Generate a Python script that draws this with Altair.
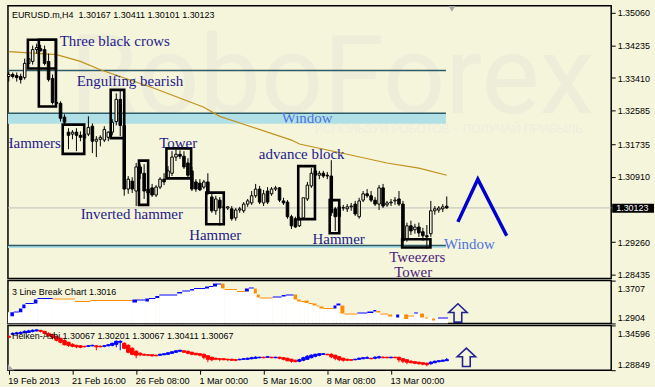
import altair as alt
import pandas as pd
import numpy as np

BG = "#F5F5DC"
FONT = "Liberation Sans"
SERIF = "Liberation Serif"

# ---------------- main candles (EURUSD H4) ----------------
open_ = [1.3345, 1.3350, 1.3347, 1.3345, 1.3342, 1.3378, 1.3383, 1.3413, 1.3415, 1.3413,
         1.3383, 1.3340, 1.3279, 1.3277, 1.3242, 1.3204, 1.3199, 1.3204, 1.3196, 1.3189,
         1.3199, 1.3219, 1.3181, 1.3186, 1.3184, 1.3191, 1.3204, 1.3231, 1.3287, 1.3221,
         1.3060, 1.3080, 1.3055, 1.3116, 1.3100, 1.3060, 1.3063, 1.3045, 1.3065, 1.3085,
         1.3088, 1.3100, 1.3141, 1.3148, 1.3143, 1.3126, 1.3106, 1.3078, 1.3075, 1.3065,
         1.3078, 1.3040, 1.3005, 1.3032, 1.3015, 1.3012, 1.3010, 1.2987, 1.3007, 1.3005,
         1.3022, 1.3025, 1.3043, 1.3060, 1.3025, 1.3055, 1.3048, 1.3060, 1.3063, 1.3030,
         1.3027, 1.2990, 1.2985, 1.2967, 1.2987, 1.3035, 1.3068, 1.3106, 1.3095, 1.3100,
         1.3095, 1.3093, 1.3010, 1.2990, 1.3012, 1.3010, 1.3015, 1.3022, 1.2990, 1.3032,
         1.3048, 1.3043, 1.3032, 1.3022, 1.3063, 1.3020, 1.3025, 1.3030, 1.3035, 1.3022,
         1.2934, 1.2967, 1.2957, 1.2964, 1.2952, 1.2942, 1.2947, 1.3005, 1.3007, 1.3010,
         1.30167]
high = [1.3357, 1.3355, 1.3355, 1.3352, 1.3390, 1.3400, 1.3423, 1.3428, 1.3425, 1.3423,
        1.3403, 1.3350, 1.3284, 1.3282, 1.3249, 1.3214, 1.3209, 1.3214, 1.3206, 1.3219,
        1.3244, 1.3226, 1.3194, 1.3196, 1.3219, 1.3206, 1.3237, 1.3302, 1.3310, 1.3231,
        1.3093, 1.3090, 1.3126, 1.3123, 1.3123, 1.3121, 1.3073, 1.3070, 1.3090, 1.3100,
        1.3118, 1.3156, 1.3161, 1.3158, 1.3156, 1.3138, 1.3116, 1.3085, 1.3085, 1.3083,
        1.3100, 1.3048, 1.3043, 1.3040, 1.3022, 1.3017, 1.3017, 1.3012, 1.3015, 1.3027,
        1.3035, 1.3055, 1.3073, 1.3068, 1.3058, 1.3065, 1.3065, 1.3068, 1.3065, 1.3038,
        1.3032, 1.2995, 1.2990, 1.2990, 1.2995, 1.3078, 1.3113, 1.3111, 1.3106, 1.3106,
        1.3103, 1.3133, 1.3015, 1.3022, 1.3020, 1.3022, 1.3025, 1.3030, 1.3038, 1.3055,
        1.3060, 1.3055, 1.3040, 1.3070, 1.3073, 1.3030, 1.3035, 1.3040, 1.3055, 1.3030,
        1.2975, 1.2980, 1.2972, 1.2975, 1.2962, 1.2969, 1.3030, 1.3017, 1.3017, 1.3022,
        1.30411]
low = [1.3332, 1.3340, 1.3332, 1.3327, 1.3337, 1.3367, 1.3375, 1.3403, 1.3408, 1.3373,
       1.3332, 1.3274, 1.3272, 1.3231, 1.3221, 1.3161, 1.3186, 1.3156, 1.3181, 1.3176,
       1.3194, 1.3151, 1.3141, 1.3168, 1.3179, 1.3181, 1.3196, 1.3221, 1.3194, 1.3043,
       1.3048, 1.3050, 1.3017, 1.3085, 1.3035, 1.3045, 1.3040, 1.3040, 1.3060, 1.3070,
       1.3085, 1.3093, 1.3131, 1.3136, 1.3111, 1.3090, 1.3055, 1.3053, 1.3055, 1.3060,
       1.3045, 1.3000, 1.2995, 1.2967, 1.3005, 1.3007, 1.2980, 1.2980, 1.3000, 1.3000,
       1.3015, 1.3020, 1.3038, 1.3022, 1.3017, 1.3022, 1.3043, 1.3055, 1.3027, 1.3020,
       1.2985, 1.2959, 1.2962, 1.2964, 1.2982, 1.3030, 1.3063, 1.3090, 1.3085, 1.3088,
       1.3085, 1.2992, 1.2954, 1.2985, 1.3005, 1.3002, 1.3005, 1.2992, 1.2985, 1.3027,
       1.3038, 1.3027, 1.3017, 1.3007, 1.3012, 1.3015, 1.3017, 1.3020, 1.3017, 1.2917,
       1.2927, 1.2944, 1.2947, 1.2939, 1.2929, 1.2909, 1.2939, 1.2995, 1.3000, 1.3002,
       1.30101]
close = [1.3350, 1.3345, 1.3342, 1.3337, 1.3378, 1.3390, 1.3413, 1.3418, 1.3410, 1.3378,
         1.3337, 1.3279, 1.3277, 1.3239, 1.3229, 1.3196, 1.3204, 1.3196, 1.3191, 1.3199,
         1.3216, 1.3181, 1.3186, 1.3191, 1.3211, 1.3204, 1.3229, 1.3287, 1.3221, 1.3060,
         1.3085, 1.3060, 1.3116, 1.3100, 1.3055, 1.3050, 1.3045, 1.3065, 1.3085, 1.3078,
         1.3106, 1.3141, 1.3148, 1.3143, 1.3116, 1.3095, 1.3060, 1.3060, 1.3058, 1.3078,
         1.3050, 1.3005, 1.3035, 1.3012, 1.3014, 1.3015, 1.2985, 1.3007, 1.3010, 1.3022,
         1.3030, 1.3043, 1.3060, 1.3027, 1.3048, 1.3027, 1.3060, 1.3063, 1.3032, 1.3025,
         1.2990, 1.2967, 1.2964, 1.2982, 1.3038, 1.3070, 1.3100, 1.3095, 1.3100, 1.3093,
         1.3093, 1.3000, 1.2990, 1.3015, 1.3013, 1.3015, 1.3017, 1.2997, 1.3030, 1.3048,
         1.3043, 1.3032, 1.3022, 1.3063, 1.3017, 1.3025, 1.3027, 1.3032, 1.3022, 1.2929,
         1.2967, 1.2954, 1.2964, 1.2949, 1.2942, 1.2939, 1.3005, 1.3010, 1.3012, 1.3015,
         1.30123]

# moving average (read at a few bars)
ma_bar = [0, 12, 18, 23, 36, 49, 53, 59, 71, 73, 85, 95, 103, 110]
ma_val = [1.3408, 1.3400, 1.3383, 1.3362, 1.3317, 1.3267, 1.3244, 1.3224, 1.3184, 1.3174,
          1.3148, 1.3126, 1.3113, 1.3095]

# pattern boxes
box_x0 = [4.8, 7.55, 25.6, 13.55, 32.7, 39.6, 49.6, 72.7, 80.6, 98.8]
box_x1 = [11.85, 11.85, 29.0, 18.95, 35.0, 45.8, 54.0, 76.9, 83.0, 105.9]
box_top = [1.3438, 1.3438, 1.3311, 1.3223, 1.3132, 1.3163, 1.3051, 1.3118, 1.3032, 1.2933]
box_bot = [1.3365, 1.3269, 1.3189, 1.3149, 1.3020, 1.3087, 1.2971, 1.2984, 1.2948, 1.2912]

# annotation labels
lab_text = ["Three black crows", "Engulfing bearish", "Window", "Hammers", "Tower",
            "advance block", "Inverted hammer", "Hammer", "Hammer", "Window", "Tweezers", "Tower"]
lab_bar = [12.8, 17.05, 68.55, -1.5, 37.8, 62.8, 18.05, 45.3, 76.3, 109.3, 95.55, 96.8]
lab_price = [1.3423, 1.3322, 1.3226, 1.3163, 1.3163, 1.3136, 1.2985, 1.2932, 1.2922, 1.2909,
             1.2876, 1.28385]
lab_kind = ["n", "n", "w", "n", "n", "n", "n", "n", "n", "w", "p", "p"]

# horizontal levels
crows_level = 1.3360
window_top, window_bot = 1.3252, 1.3225
low_top, low_bot = 1.2917, 1.2911
level_end = 109.8

# forecast zig-zag
zz_bar = [112.8, 117.8, 125.05]
zz_price = [1.2977, 1.3085, 1.2942]

main_ticks = [1.35060, 1.34235, 1.33410, 1.32585, 1.31735, 1.30910, 1.29260, 1.28435]

# ---------------- 3 line break ----------------
lb_b0 = [0.4, 1.3, 2.55, 3.4, 4.2, 6.3, 7.2, 11.05, 16.6, 20.5,
         31.05, 32.2, 34.3, 35.2, 36.8, 37.8, 42.3, 43.55, 45.55, 46.55,
         49.3, 50.3, 51.3, 52.3, 53.3, 54.2, 57.3, 59.3, 60.3, 61.55,
         62.3, 63.05, 66.3, 68.55, 69.55, 71.55, 72.4, 73.3, 74.3, 75.3,
         76.3, 77.3, 78.05, 79.05, 81.55, 82.3, 83.3, 84.3, 87.55, 90.05,
         91.55, 92.3, 93.3, 95.3, 97.3, 99.3, 100.3, 101.8, 103.3, 104.55,
         106.3, 107.8]
lb_b1 = [1.3, 2.55, 3.4, 4.2, 6.3, 7.2, 11.05, 16.6, 20.5, 31.05,
         32.2, 34.3, 35.2, 36.8, 37.8, 42.3, 43.55, 45.55, 46.55, 49.3,
         50.3, 51.3, 52.3, 53.3, 54.2, 57.3, 59.3, 60.3, 61.55, 62.3,
         63.05, 66.3, 68.55, 69.55, 71.55, 72.4, 73.3, 74.3, 75.3, 76.3,
         77.3, 78.05, 79.05, 81.55, 82.3, 83.3, 84.3, 87.55, 90.05, 91.55,
         92.3, 93.3, 95.3, 96.3, 98.05, 100.3, 101.8, 102.8, 104.3, 105.3,
         107.05, 110.3]
lb_top = [1.3115, 1.3128, 1.3184, 1.3259, 1.3287, 1.3352, 1.3380, 1.3371, 1.3324, 1.3343,
          1.3352, 1.3352, 1.3371, 1.3380, 1.3418, 1.3446, 1.3492, 1.3520, 1.3548, 1.3567,
          1.3595, 1.3604, 1.3651, 1.3651, 1.3651, 1.3548, 1.3511, 1.3558, 1.3576, 1.3558,
          1.3446, 1.3390, 1.3408, 1.3436, 1.3446, 1.3446, 1.3352, 1.3324, 1.3334, 1.3287,
          1.3278, 1.3240, 1.3222, 1.3193, 1.3240, 1.3278, 1.3240, 1.3091, 1.3109, 1.3128,
          1.3156, 1.3137, 1.3091, 1.3072, 1.3072, 1.3072, 1.3053, 1.3109, 1.3091, 1.3016,
          1.2997, 1.3016]
lb_bot = [1.3040, 1.3109, 1.3115, 1.3190, 1.3268, 1.3278, 1.3362, 1.3352, 1.3306, 1.3324,
          1.3296, 1.3334, 1.3315, 1.3362, 1.3380, 1.3427, 1.3464, 1.3502, 1.3520, 1.3548,
          1.3558, 1.3586, 1.3595, 1.3632, 1.3558, 1.3530, 1.3492, 1.3502, 1.3558, 1.3464,
          1.3390, 1.3371, 1.3390, 1.3408, 1.3427, 1.3352, 1.3315, 1.3306, 1.3287, 1.3268,
          1.3240, 1.3222, 1.3184, 1.3175, 1.3184, 1.3240, 1.3091, 1.3072, 1.3091, 1.3100,
          1.3128, 1.3109, 1.3072, 1.3035, 1.3016, 1.2988, 1.3035, 1.3091, 1.3016, 1.2997,
          1.2960, 1.2997]
lb_dir = (["up"] * 7 + ["down"] * 3 + ["up"] * 14 + ["down"] * 3 + ["up"] * 2 +
          ["down"] * 3 + ["up"] * 3 + ["down"] * 9 + ["up"] * 2 + ["down"] * 2 +
          ["up"] * 3 + ["down"] * 3 + ["up"] + ["down"] * 2 + ["up"] + ["down"] * 3 + ["up"])

# ---------------- Heiken Ashi ----------------
ha_open = [1.3319, 1.3345, 1.3351, 1.3357, 1.3364, 1.3370, 1.3383, 1.3389, 1.3396, 1.3383,
           1.3357, 1.3345, 1.3319, 1.3294, 1.3268, 1.3243, 1.3217, 1.3204, 1.3198, 1.3191,
           1.3191, 1.3198, 1.3198, 1.3191, 1.3191, 1.3198, 1.3204, 1.3217, 1.3243, 1.3230,
           1.3204, 1.3166, 1.3128, 1.3102, 1.3089, 1.3083, 1.3083, 1.3077, 1.3077, 1.3083,
           1.3089, 1.3102, 1.3115, 1.3128, 1.3134, 1.3128, 1.3115, 1.3102, 1.3096, 1.3089,
           1.3070, 1.3051, 1.3038, 1.3032, 1.3032, 1.3025, 1.3025, 1.3019, 1.3019, 1.3025,
           1.3025, 1.3032, 1.3038, 1.3045, 1.3051, 1.3051, 1.3051, 1.3045, 1.3051, 1.3045,
           1.3038, 1.3025, 1.3013, 1.3000, 1.3013, 1.3025, 1.3045, 1.3064, 1.3077, 1.3089,
           1.3089, 1.3089, 1.3077, 1.3057, 1.3038, 1.3025, 1.3019, 1.3019, 1.3025, 1.3032,
           1.3038, 1.3038, 1.3038, 1.3045, 1.3051, 1.3051, 1.3045, 1.3051, 1.3051, 1.3032,
           1.3019, 1.3000, 1.2994, 1.2987, 1.2981, 1.2974, 1.2968, 1.2981, 1.2994, 1.3000,
           1.30067]
ha_close = [1.3306, 1.3357, 1.3364, 1.3370, 1.3383, 1.3389, 1.3396, 1.3402, 1.3383, 1.3357,
            1.3326, 1.3306, 1.3268, 1.3243, 1.3211, 1.3204, 1.3191, 1.3185, 1.3179, 1.3185,
            1.3198, 1.3204, 1.3185, 1.3185, 1.3198, 1.3211, 1.3230, 1.3255, 1.3255, 1.3166,
            1.3115, 1.3089, 1.3077, 1.3083, 1.3077, 1.3077, 1.3070, 1.3070, 1.3089, 1.3096,
            1.3108, 1.3121, 1.3134, 1.3140, 1.3115, 1.3102, 1.3089, 1.3083, 1.3077, 1.3051,
            1.3025, 1.3019, 1.3025, 1.3025, 1.3019, 1.3019, 1.3013, 1.3013, 1.3025, 1.3032,
            1.3038, 1.3045, 1.3051, 1.3051, 1.3045, 1.3057, 1.3045, 1.3051, 1.3038, 1.3025,
            1.3006, 1.3000, 1.2994, 1.3019, 1.3045, 1.3064, 1.3077, 1.3089, 1.3096, 1.3096,
            1.3083, 1.3057, 1.3038, 1.3019, 1.3013, 1.3013, 1.3013, 1.3025, 1.3038, 1.3045,
            1.3045, 1.3032, 1.3051, 1.3057, 1.3045, 1.3045, 1.3051, 1.3045, 1.3019, 1.3000,
            1.2987, 1.2981, 1.2974, 1.2968, 1.2962, 1.2955, 1.2987, 1.3000, 1.3006, 1.3013,
            1.30201]
ha_high = [1.3332, 1.3370, 1.3377, 1.3383, 1.3396, 1.3402, 1.3409, 1.3409, 1.3402, 1.3389,
           1.3370, 1.3351, 1.3326, 1.3300, 1.3281, 1.3249, 1.3230, 1.3211, 1.3204, 1.3198,
           1.3204, 1.3211, 1.3204, 1.3204, 1.3204, 1.3217, 1.3236, 1.3268, 1.3268, 1.3243,
           1.3217, 1.3179, 1.3140, 1.3115, 1.3096, 1.3089, 1.3089, 1.3083, 1.3096, 1.3102,
           1.3115, 1.3128, 1.3140, 1.3147, 1.3140, 1.3134, 1.3121, 1.3108, 1.3102, 1.3096,
           1.3077, 1.3057, 1.3045, 1.3038, 1.3038, 1.3032, 1.3032, 1.3025, 1.3032, 1.3038,
           1.3045, 1.3057, 1.3064, 1.3057, 1.3057, 1.3064, 1.3057, 1.3057, 1.3057, 1.3051,
           1.3045, 1.3032, 1.3019, 1.3032, 1.3057, 1.3077, 1.3089, 1.3096, 1.3102, 1.3102,
           1.3096, 1.3102, 1.3083, 1.3064, 1.3045, 1.3032, 1.3025, 1.3032, 1.3045, 1.3051,
           1.3064, 1.3045, 1.3064, 1.3070, 1.3064, 1.3057, 1.3057, 1.3057, 1.3057, 1.3038,
           1.3025, 1.3013, 1.3000, 1.2994, 1.2987, 1.2981, 1.3000, 1.3006, 1.3013, 1.3019,
           1.30411]
ha_low = [1.3300, 1.3332, 1.3345, 1.3345, 1.3357, 1.3364, 1.3370, 1.3383, 1.3370, 1.3345,
          1.3313, 1.3281, 1.3255, 1.3230, 1.3204, 1.3185, 1.3179, 1.3166, 1.3166, 1.3179,
          1.3185, 1.3191, 1.3140, 1.3179, 1.3179, 1.3191, 1.3191, 1.3179, 1.3140, 1.3153,
          1.3102, 1.3077, 1.3038, 1.3064, 1.3070, 1.3064, 1.3057, 1.3064, 1.3070, 1.3077,
          1.3083, 1.3096, 1.3108, 1.3121, 1.3108, 1.3089, 1.3077, 1.3077, 1.3064, 1.3025,
          1.2987, 1.3000, 1.3013, 1.3000, 1.3013, 1.3000, 1.3006, 1.3000, 1.3013, 1.3019,
          1.3019, 1.3025, 1.3032, 1.3038, 1.3038, 1.3045, 1.3038, 1.3038, 1.3025, 1.3013,
          1.3000, 1.2981, 1.2987, 1.2987, 1.3000, 1.3019, 1.3038, 1.3051, 1.3064, 1.3083,
          1.3077, 1.3038, 1.3013, 1.3000, 1.2994, 1.3006, 1.3006, 1.3013, 1.3019, 1.3025,
          1.3032, 1.3025, 1.3025, 1.3032, 1.3038, 1.3038, 1.3038, 1.3038, 1.2987, 1.2974,
          1.2962, 1.2974, 1.2962, 1.2955, 1.2949, 1.2936, 1.2955, 1.2974, 1.2987, 1.2994,
          1.30067]

x_tick_bars = [0, 16, 32, 48, 64, 80, 96]
x_tick_labels = ["19 Feb 2013", "21 Feb 16:00", "26 Feb 08:00", "1 Mar 00:00",
                 "5 Mar 16:00", "8 Mar 08:00", "13 Mar 00:00"]

title_text = "EURUSD.m,H4\u00a0\u00a01.30167 1.30411 1.30101 1.30123"
lb_text = "3 Line Break Chart 1.3016"
ha_text = "Heiken-Ashi 1.30067 1.30201 1.30067 1.30411 1.30067"

# ---------------- scales / sizes ----------------
W = 606
H_MAIN, H_LB, H_HA = 274, 43, 45
X_DOM = [-0.2, 151.3]
MAIN_DOM = [1.28334, 1.35236]
LB_DOM = [1.2904, 1.3707]
HA_DOM = [1.28849, 1.34596]

xs = alt.Scale(domain=X_DOM, nice=False, zero=False)
ys_main = alt.Scale(domain=MAIN_DOM, nice=False, zero=False)
ys_lb = alt.Scale(domain=LB_DOM, nice=False, zero=False)
ys_ha = alt.Scale(domain=HA_DOM, nice=False, zero=False)

yax_main = alt.Axis(orient="right", values=main_ticks, format=".5f", title=None, tickSize=4,
                    tickColor="black", labelFontSize=9, labelFont=FONT, labelColor="black",
                    labelPadding=2, grid=False, domain=False, labelOverlap=False)


def sub_axis(vals, fmt):
    return alt.Axis(orient="right", values=vals, format=fmt, title=None, tickSize=4,
                    tickColor="black", labelFontSize=9, labelFont=FONT, labelColor="black",
                    labelPadding=2, grid=False, domain=False, labelOverlap=False,
                    labelOffset={"condition": {"test": "datum.value > 1.33", "value": 8}, "value": -6})


yax_lb = sub_axis(LB_DOM[::-1], ".4f")
yax_ha = sub_axis(HA_DOM[::-1], ".5f")

NOX = alt.X("bar:Q", scale=xs, axis=None)

# ---------------- data frames ----------------
n = len(open_)
cdf = pd.DataFrame({"bar": np.arange(n), "o": open_, "h": high, "l": low, "c": close})
cdf["x0"] = cdf["bar"] - 0.32
cdf["x1"] = cdf["bar"] + 0.32
cdf["top"] = cdf[["o", "c"]].max(axis=1)
cdf["bot"] = cdf[["o", "c"]].min(axis=1)
cdf["dir"] = np.where(cdf["c"] >= cdf["o"], "bull", "bear")

madf = pd.DataFrame({"bar": ma_bar, "v": ma_val})
boxdf = pd.DataFrame({"x0": box_x0, "x1": box_x1, "top": box_top, "bot": box_bot})
labdf = pd.DataFrame({"t": lab_text, "bar": lab_bar, "p": lab_price, "k": lab_kind})
zzdf = pd.DataFrame({"bar": zz_bar, "p": zz_price, "i": range(len(zz_bar))})
bands = pd.DataFrame({"x0": [X_DOM[0], X_DOM[0]], "x1": [level_end, level_end],
                      "top": [window_top, low_top], "bot": [window_bot, low_bot]})
lines = pd.DataFrame({"x0": [X_DOM[0]] * 3, "x1": [level_end] * 3,
                      "y": [crows_level, window_top, low_top]})
last = close[-1]
pxdf = pd.DataFrame({"y": [last], "yt": [last + 0.00105], "yb": [last - 0.00125],
                     "t": [f"{last:.5f}"]})


def Y(field, scale, axis):
    return alt.Y(f"{field}:Q", scale=scale, axis=axis)


# ---------------- main panel ----------------
wm = alt.Chart(pd.DataFrame({"t": ["RoboForex"]})).mark_text(
    align="left", baseline="alphabetic", font="Roboto", fontSize=110, color="#EDEDDA"
).encode(text="t:N", x=alt.value(62), y=alt.value(108))
wm2 = alt.Chart(pd.DataFrame({"t": ["ИСПОЛЬЗУЙ РОБОТОВ – ПОЛУЧАЙ ПРИБЫЛЬ"]})).mark_text(
    align="left", baseline="alphabetic", font=FONT, fontSize=12, color="#EEEEDC"
).encode(text="t:N", x=alt.value(308), y=alt.value(128))

band_l = alt.Chart(bands).mark_rect(fill="#B0E0E6").encode(
    x=alt.X("x0:Q", scale=xs, axis=None), x2="x1",
    y=Y("top", ys_main, yax_main), y2="bot")
line_l = alt.Chart(lines).mark_rule(color="#2C5A66", strokeWidth=1.5).encode(
    x=alt.X("x0:Q", scale=xs, axis=None), x2="x1", y=Y("y", ys_main, yax_main))
price_line = alt.Chart(pxdf).mark_rule(color="#C0C0C0", strokeWidth=1).encode(
    y=Y("y", ys_main, yax_main))
ma_l = alt.Chart(madf).mark_line(color="#C0901C", strokeWidth=1.2).encode(
    x=NOX, y=Y("v", ys_main, yax_main))
wick = alt.Chart(cdf).mark_rule(color="black", strokeWidth=1).encode(
    x=NOX, y=Y("l", ys_main, yax_main), y2="h")
body = alt.Chart(cdf).mark_rect(stroke="black", strokeWidth=1).encode(
    x=alt.X("x0:Q", scale=xs, axis=None), x2="x1",
    y=Y("bot", ys_main, yax_main), y2="top",
    fill=alt.Fill("dir:N", scale=alt.Scale(domain=["bull", "bear"], range=[BG, "black"]), legend=None))
box_l = alt.Chart(boxdf).mark_rect(fillOpacity=0, stroke="black", strokeWidth=2.6).encode(
    x=alt.X("x0:Q", scale=xs, axis=None), x2="x1",
    y=Y("top", ys_main, yax_main), y2="bot")
lab_l = alt.Chart(labdf).mark_text(
    align="left", baseline="alphabetic", font=SERIF, fontSize=15, clip=True
).encode(
    x=NOX, y=Y("p", ys_main, yax_main), text="t:N",
    color=alt.Color("k:N", scale=alt.Scale(domain=["n", "w", "p"],
                                           range=["#1E1A8A", "#4E72E0", "#4B1C78"]), legend=None))
zz_l = alt.Chart(zzdf).mark_line(color="#0000CD", strokeWidth=3.5).encode(
    x=NOX, y=Y("p", ys_main, yax_main), order="i:Q")
title_l = alt.Chart(pd.DataFrame({"t": [title_text]})).mark_text(
    align="left", baseline="alphabetic", font=FONT, fontSize=9, color="black"
).encode(text="t:N", x=alt.value(4), y=alt.value(12))
pbox = alt.Chart(pxdf).mark_rect(fill="black").encode(
    x=alt.value(607), x2=alt.value(649), y=Y("yt", ys_main, yax_main), y2="yb")
ptext = alt.Chart(pxdf).mark_text(
    align="left", baseline="middle", font=FONT, fontSize=9, color="white"
).encode(x=alt.value(611), y=Y("y", ys_main, yax_main), text="t:N")
shift_l = alt.Chart(pd.DataFrame({"a": [0]})).mark_point(
    shape="triangle-down", size=45, filled=True, fill="#A8A8A8", opacity=1
).encode(x=alt.value(446), y=alt.value(3))

main = alt.layer(wm, wm2, band_l, line_l, price_line, ma_l, wick, body, box_l, lab_l, zz_l,
                 title_l, pbox, ptext, shift_l).properties(width=W, height=H_MAIN)

# ---------------- line break panel ----------------
lbdf = pd.DataFrame({"b0": lb_b0, "b1": lb_b1, "top": lb_top, "bot": lb_bot,
                     "dir": ["lb_" + d for d in lb_dir]})
lbdf["wx0"] = lbdf["b0"]
lbdf.loc[0, "wx0"] = X_DOM[0]
lbdf["wx1"] = lbdf["b0"].shift(-1).fillna(lbdf["b1"].iloc[-1])

arrow = "M0,-1 L1,-0.05 L0.42,-0.05 L0.42,1 L-0.42,1 L-0.42,-0.05 L-1,-0.05 Z"

lb_white = alt.Chart(lbdf).mark_rect(fill="white", clip=True).encode(
    x=alt.X("wx0:Q", scale=xs, axis=None), x2="wx1",
    y=Y("top", ys_lb, yax_lb), y2=alt.value(H_LB))
lb_brick = alt.Chart(lbdf).mark_rect(clip=True).encode(
    x=alt.X("b0:Q", scale=xs, axis=None), x2="b1",
    y=Y("top", ys_lb, yax_lb), y2="bot",
    fill=alt.Fill("dir:N", scale=alt.Scale(domain=["lb_up", "lb_down"],
                                           range=["#0000FF", "#FF8C00"]), legend=None))
lb_title = alt.Chart(pd.DataFrame({"t": [lb_text]})).mark_text(
    align="left", baseline="alphabetic", font=FONT, fontSize=9, color="black"
).encode(text="t:N", x=alt.value(4), y=alt.value(14))
lb_arrow = alt.Chart(pd.DataFrame({"a": [0]})).mark_point(
    shape=arrow, size=340, filled=True, fill=BG, stroke="#23238E", strokeWidth=1.6, opacity=1
).encode(x=alt.value(452), y=alt.value(32.5))

lbc = alt.layer(lb_white, lb_brick, lb_title, lb_arrow).properties(width=W, height=H_LB)

# ---------------- Heiken Ashi panel ----------------
hadf = pd.DataFrame({"bar": np.arange(len(ha_open)), "o": ha_open, "c": ha_close,
                     "h": ha_high, "l": ha_low})
hadf["x0"] = hadf["bar"] - 0.42
hadf["x1"] = hadf["bar"] + 0.42
hadf["dir"] = np.where(hadf["c"] >= hadf["o"], "ha_up", "ha_down")
ha_col = alt.Scale(domain=["ha_up", "ha_down"], range=["#0000FF", "#FF0000"])

x_expr = "[" + ",".join(f"'{s}'" for s in x_tick_labels) + "][round(datum.value/16)]"
xax = alt.Axis(values=x_tick_bars, labelExpr=x_expr, orient="bottom", title=None, tickSize=4,
               tickColor="black", labelAlign="left", labelPadding=2, labelOffset=-1,
               labelFontSize=9.2, labelFont=FONT, labelColor="black", grid=False, domain=False,
               labelFlush=False, labelOverlap=False, labelBound=False)

ha_wick = alt.Chart(hadf).mark_rule(strokeWidth=1, clip=True).encode(
    x=alt.X("bar:Q", scale=xs, axis=xax), y=Y("l", ys_ha, yax_ha), y2="h",
    color=alt.Color("dir:N", scale=ha_col, legend=None))
ha_body = alt.Chart(hadf).mark_rect(clip=True, stroke=None if False else "transparent").encode(
    x=alt.X("x0:Q", scale=xs, axis=xax), x2="x1", y=Y("o", ys_ha, yax_ha), y2="c",
    fill=alt.Fill("dir:N", scale=ha_col, legend=None),
    stroke=alt.Stroke("dir:N", scale=ha_col, legend=None))
ha_title = alt.Chart(pd.DataFrame({"t": [ha_text]})).mark_text(
    align="left", baseline="alphabetic", font=FONT, fontSize=9, color="black"
).encode(text="t:N", x=alt.value(4), y=alt.value(14))
ha_arrow = alt.Chart(pd.DataFrame({"a": [0]})).mark_point(
    shape=arrow, size=340, filled=True, fill=BG, stroke="#23238E", strokeWidth=1.6, opacity=1
).encode(x=alt.value(460.5), y=alt.value(32))
corner = alt.Chart(pd.DataFrame({"a": [0]})).mark_point(
    shape="M-1,-1 L1,1 L-1,1 Z", size=36, filled=True, fill="#A8A8A8", opacity=1
).encode(x=alt.value(3), y=alt.value(42))

hac = alt.layer(ha_wick, ha_body, ha_title, ha_arrow, corner).properties(width=W, height=H_HA)

chart = alt.vconcat(main, lbc, hac, spacing=2, bounds="flush").resolve_scale(
    fill="independent", color="independent", stroke="independent", y="independent"
).properties(
    padding={"left": 5, "top": 4, "right": 0, "bottom": 0}
).configure(background=BG).configure_view(stroke="black", strokeWidth=1.5, fill=BG)

chart.save("out.html", embed_options={"renderer": "svg", "actions": False})
